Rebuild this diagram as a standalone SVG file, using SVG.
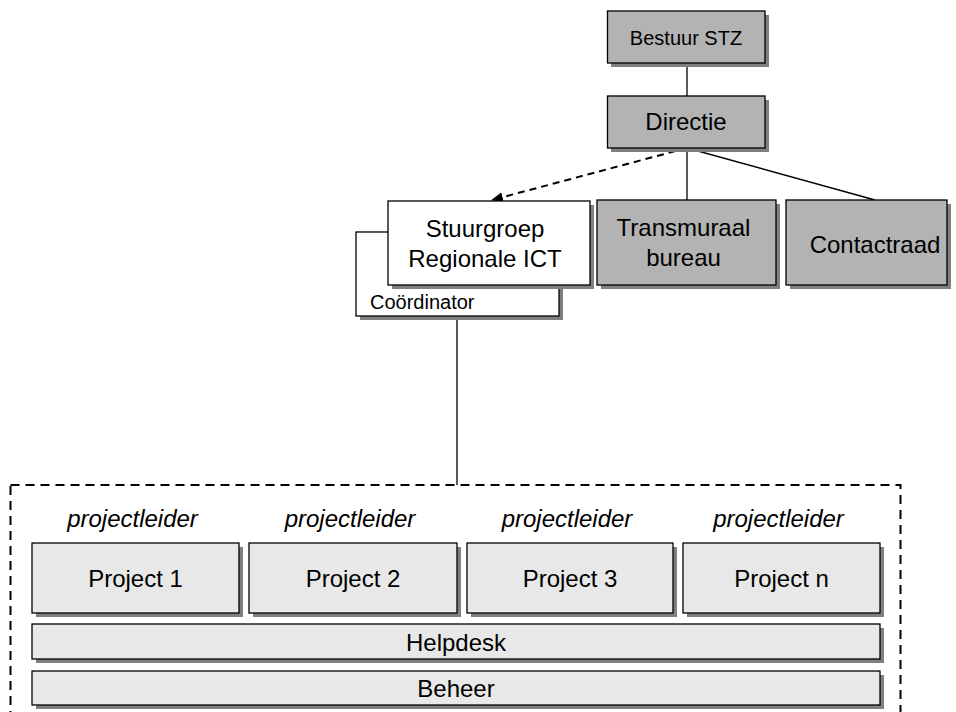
<svg xmlns="http://www.w3.org/2000/svg" width="956" height="712" viewBox="0 0 956 712">
<style>
.box{stroke:#000;stroke-width:1.3}
.dark{fill:#b3b3b3}
.light{fill:#e8e8e8}
.white{fill:#fff}
.sh{fill:#808080}
text{font-family:"Liberation Sans",Arial,sans-serif;fill:#000;text-anchor:middle}
.t24{font-size:24px}
.t20{font-size:20px}
.it{font-style:italic}
.ln{stroke:#000;stroke-width:1.3;fill:none}
.dash{stroke:#000;stroke-width:2;fill:none}
</style>
<defs>
<marker id="arr" markerWidth="12" markerHeight="10" refX="11" refY="5" orient="auto" markerUnits="userSpaceOnUse">
<path d="M0,0 L12,5 L0,10 Z" fill="#000"/>
</marker>
</defs>
<rect x="0" y="0" width="956" height="712" fill="#fff"/>
<g id="connectors">
<line class="ln" x1="687" y1="63" x2="687" y2="96"/>
<line class="dash" x1="687" y1="148" x2="492" y2="200" stroke-dasharray="7,5" marker-end="url(#arr)"/>
<line class="ln" x1="687" y1="148" x2="687" y2="200"/>
<line class="ln" x1="687" y1="148" x2="875" y2="200"/>
<line class="ln" x1="457" y1="317" x2="457" y2="485"/>
</g>
<g id="bestuur">
<rect class="sh" x="611" y="15" width="158" height="52"/>
<rect class="box dark" x="607.5" y="11" width="157.5" height="52"/>
<text class="t20" x="686" y="45">Bestuur STZ</text>
</g>
<g id="directie">
<rect class="sh" x="611" y="100" width="158" height="52"/>
<rect class="box dark" x="607.5" y="96" width="157.5" height="52"/>
<text class="t24" x="686" y="130">Directie</text>
</g>
<g id="coordinator">
<rect class="sh" x="360" y="236" width="203" height="84"/>
<rect class="box white" x="356" y="232" width="203" height="84"/>
<text class="t20" x="370" y="309" style="text-anchor:start">Coördinator</text>
</g>
<g id="stuurgroep">
<rect class="sh" x="392" y="205" width="202" height="84"/>
<rect class="box white" x="388" y="201" width="202" height="84"/>
<text class="t24" x="485" y="237">Stuurgroep</text>
<text class="t24" x="485" y="267">Regionale ICT</text>
</g>
<g id="transmuraal">
<rect class="sh" x="601" y="204" width="179" height="85"/>
<rect class="box dark" x="597" y="200" width="179" height="85"/>
<text class="t24" x="683.5" y="236">Transmuraal</text>
<text class="t24" x="683.5" y="266">bureau</text>
</g>
<g id="contactraad">
<rect class="sh" x="790" y="204" width="161" height="85"/>
<rect class="box dark" x="786" y="200" width="161" height="85"/>
<text class="t24" x="875" y="253">Contactraad</text>
</g>
<g id="projectgroep">
<rect x="10.5" y="485" width="890" height="240" fill="none" stroke="#000" stroke-width="2" stroke-dasharray="9,6"/>
</g>
<g id="project1">
<text class="t24 it" x="132.5" y="527">projectleider</text>
<rect class="sh" x="36" y="547" width="207" height="70"/>
<rect class="box light" x="32" y="543" width="207" height="70"/>
<text class="t24" x="135.5" y="587">Project 1</text>
</g>
<g id="project2">
<text class="t24 it" x="350" y="527">projectleider</text>
<rect class="sh" x="253" y="547" width="208" height="70"/>
<rect class="box light" x="249" y="543" width="208" height="70"/>
<text class="t24" x="353" y="587">Project 2</text>
</g>
<g id="project3">
<text class="t24 it" x="567" y="527">projectleider</text>
<rect class="sh" x="471" y="547" width="206" height="70"/>
<rect class="box light" x="467" y="543" width="206" height="70"/>
<text class="t24" x="570" y="587">Project 3</text>
</g>
<g id="projectn">
<text class="t24 it" x="778.5" y="527">projectleider</text>
<rect class="sh" x="687" y="547" width="197" height="70"/>
<rect class="box light" x="683" y="543" width="197" height="70"/>
<text class="t24" x="781.5" y="587">Project n</text>
</g>
<g id="helpdesk">
<rect class="sh" x="36" y="628" width="848" height="35"/>
<rect class="box light" x="32" y="624" width="848" height="35"/>
<text class="t24" x="456" y="651">Helpdesk</text>
</g>
<g id="beheer">
<rect class="sh" x="36" y="675" width="848" height="34"/>
<rect class="box light" x="32" y="671" width="848" height="34"/>
<text class="t24" x="456" y="697">Beheer</text>
</g>
</svg>
